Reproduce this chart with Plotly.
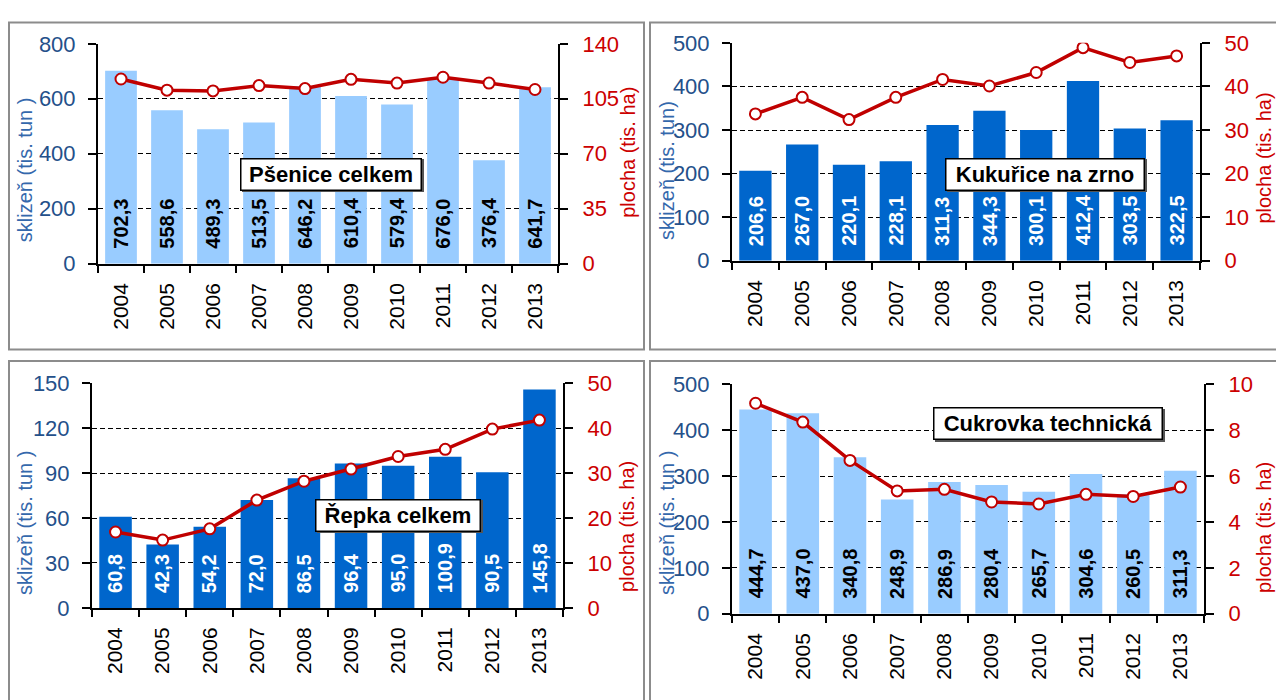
import plotly.graph_objects as go

W = 1276
H = 700

roky = [2004, 2005, 2006, 2007, 2008, 2009, 2010, 2011, 2012, 2013]

# sklizen (tis. tun)
psenice_sklizen = [702.3, 558.6, 489.3, 513.5, 646.2, 610.4, 579.4, 676.0, 376.4, 641.7]
kukurice_sklizen = [206.6, 267.0, 220.1, 228.1, 311.3, 344.3, 300.1, 412.4, 303.5, 322.5]
repka_sklizen = [60.8, 42.3, 54.2, 72.0, 86.5, 96.4, 95.0, 100.9, 90.5, 145.8]
cukrovka_sklizen = [444.7, 437.0, 340.8, 248.9, 286.9, 280.4, 265.7, 304.6, 260.5, 311.3]

# plocha (tis. ha), odhad z grafu
psenice_plocha = [117.6, 110.5, 110.0, 113.4, 111.5, 117.4, 115.0, 118.7, 115.0, 110.9]
kukurice_plocha = [33.7, 37.5, 32.4, 37.5, 41.6, 40.1, 43.2, 48.9, 45.5, 47.0]
repka_plocha = [16.9, 15.1, 17.6, 24.0, 28.2, 30.9, 33.7, 35.3, 39.8, 41.8]
cukrovka_plocha = [9.17, 8.35, 6.68, 5.35, 5.42, 4.87, 4.78, 5.20, 5.11, 5.52]

# osy
psenice_ticks_l = [0, 200, 400, 600, 800]
psenice_ticks_r = [0, 35, 70, 105, 140]
kukurice_ticks_l = [0, 100, 200, 300, 400, 500]
kukurice_ticks_r = [0, 10, 20, 30, 40, 50]
repka_ticks_l = [0, 30, 60, 90, 120, 150]
repka_ticks_r = [0, 10, 20, 30, 40, 50]
cukrovka_ticks_l = [0, 100, 200, 300, 400, 500]
cukrovka_ticks_r = [0, 2, 4, 6, 8, 10]

nazvy = ['Pšenice celkem', 'Kukuřice na zrno', 'Řepka celkem', 'Cukrovka technická']

FONT = 'Liberation Sans, Arial, sans-serif'
MODRA_OSA = '#24508A'
MODRA_TITUL = '#3468AC'
CERVENA = '#CC0000'
LINKA = '#C00000'


def px(x):
    return x / W


def py(y):
    return 1 - y / H


# pixelove rozmisteni panelu: (plot x0, x1, y0, y1), box nazvu (cx, cy, w), tituly os
panely = [
    dict(sklizen=psenice_sklizen, plocha=psenice_plocha, tl=psenice_ticks_l, tr=psenice_ticks_r,
         barva='#99CCFF', text='black', plot=(98, 558, 33, 261), box=(331, 168.5, 182),
         tit_l=(25, 164, 'sklizeň (tis. tun )'), tit_r=(628, 146)),
    dict(sklizen=kukurice_sklizen, plocha=kukurice_plocha, tl=kukurice_ticks_l, tr=kukurice_ticks_r,
         barva='#0066CC', text='white', plot=(732, 1200, 32, 258), box=(1045, 168.5, 200),
         tit_l=(667, 165, 'sklizeň (tis. tun)'), tit_r=(1264, 152)),
    dict(sklizen=repka_sklizen, plocha=repka_plocha, tl=repka_ticks_l, tr=repka_ticks_r,
         barva='#0066CC', text='white', plot=(92, 563, 385, 618), box=(398, 522, 166),
         tit_l=(25, 530, 'sklizeň (tis. tun )'), tit_r=(627, 534)),
    dict(sklizen=cukrovka_sklizen, plocha=cukrovka_plocha, tl=cukrovka_ticks_l, tr=cukrovka_ticks_r,
         barva='#99CCFF', text='black', plot=(732, 1204, 386, 624), box=(1048, 427, 230),
         tit_l=(667, 530, 'sklizeň (tis. tun )'), tit_r=(1264, 535)),
]


def fmt(v):
    return f'{v:.1f}'.replace('.', ',')


fig = go.Figure()
layout = {}
annotations = []
shapes = []

for i, p in enumerate(panely):
    n = i + 1
    xa = 'x' if n == 1 else f'x{n}'
    ya = 'y' if n == 1 else f'y{2 * n - 1}'
    yb = f'y{2 * n}'
    x0, x1, y0, y1 = p['plot']

    fig.add_trace(go.Bar(
        x=roky, y=p['sklizen'], xaxis=xa, yaxis=ya,
        marker=dict(color=p['barva'], line=dict(width=0)),
        showlegend=False, hoverinfo='skip'
    ))
    fig.add_trace(go.Scatter(
        x=roky, y=p['plocha'], xaxis=xa, yaxis=yb,
        mode='lines+markers',
        line=dict(color=LINKA, width=3.5),
        marker=dict(size=11, color='white', line=dict(color=LINKA, width=2)),
        showlegend=False, hoverinfo='skip'
    ))

    layout['xaxis' if n == 1 else f'xaxis{n}'] = dict(
        domain=[px(x0), px(x1)], anchor=ya, type='linear',
        range=[roky[0] - 0.5, roky[-1] + 0.5],
        tickmode='array', tickvals=roky, ticktext=[str(r) for r in roky],
        showline=True, linecolor='black', linewidth=2,
        ticks='', tickangle=-90, ticklabelstandoff=9,
        tickfont=dict(family=FONT, size=21, color='black'),
        minor=dict(tickmode='linear', tick0=roky[0] - 0.5, dtick=1, ticks='outside',
                   ticklen=7, tickwidth=2, tickcolor='black', showgrid=False),
        showgrid=False, zeroline=False, fixedrange=True
    )
    layout['yaxis' if n == 1 else f'yaxis{2 * n - 1}'] = dict(
        domain=[py(y1), py(y0)], anchor=xa,
        range=[0, p['tl'][-1]], tickvals=p['tl'],
        showline=True, linecolor='black', linewidth=2,
        ticks='outside', ticklen=8, tickwidth=2, tickcolor='black', ticklabelstandoff=8,
        tickfont=dict(family=FONT, size=22, color=MODRA_OSA),
        showgrid=True, gridcolor='black', gridwidth=1.2, griddash='5px,3px',
        zeroline=False, fixedrange=True
    )
    layout[f'yaxis{2 * n}'] = dict(
        overlaying=ya, side='right', anchor=xa,
        range=[0, p['tr'][-1]], tickvals=p['tr'],
        showline=True, linecolor='black', linewidth=2,
        ticks='outside', ticklen=8, tickwidth=2, tickcolor='black', ticklabelstandoff=10,
        tickfont=dict(family=FONT, size=22, color=CERVENA),
        showgrid=False, zeroline=False, fixedrange=True
    )

    # hodnoty v sloupcich
    for rok, v in zip(roky, p['sklizen']):
        annotations.append(dict(
            x=rok, y=0, xref=xa, yref=ya, text=fmt(v), textangle=-90,
            yanchor='bottom', xanchor='center', yshift=13, showarrow=False,
            font=dict(family=FONT, size=20, color=p['text'], weight='bold')
        ))

    # nazev plodiny v ramecku (s lehkym stinem)
    cx, cy, bw = p['box']
    annotations.append(dict(
        x=px(cx + 1.5), y=py(cy + 1.5), xref='paper', yref='paper', text='',
        xanchor='center', yanchor='middle',
        width=bw - 7, height=26, bgcolor='#555555', borderpad=2, borderwidth=1.5,
        bordercolor='#555555', showarrow=False
    ))
    annotations.append(dict(
        x=px(cx), y=py(cy), xref='paper', yref='paper', text=nazvy[i],
        xanchor='center', yanchor='middle',
        width=bw - 7, height=26, bgcolor='white', bordercolor='black',
        borderwidth=1.5, borderpad=2, showarrow=False,
        font=dict(family=FONT, size=22, color='black', weight='bold')
    ))

    # tituly os
    tx, ty, tt = p['tit_l']
    annotations.append(dict(
        x=px(tx), y=py(ty), xref='paper', yref='paper', text=tt, textangle=-90,
        xanchor='center', yanchor='middle',
        showarrow=False, font=dict(family=FONT, size=20, color=MODRA_TITUL)
    ))
    rx, ry = p['tit_r']
    annotations.append(dict(
        x=px(rx), y=py(ry), xref='paper', yref='paper', text='plocha (tis. ha)',
        xanchor='center', yanchor='middle',
        textangle=-90, showarrow=False, font=dict(family=FONT, size=20, color=CERVENA)
    ))

# ramecky panelu
for (bx0, by0, bx1, by1) in [(9, 11, 644, 350), (650, 11, 1300, 350), (9, 362, 644, 720), (650, 362, 1300, 720)]:
    shapes.append(dict(
        type='rect', xref='paper', yref='paper',
        x0=px(bx0), x1=px(bx1), y0=py(by1), y1=py(by0),
        line=dict(color='#8C8C8C', width=2), layer='below'
    ))

fig.update_layout(
    width=W, height=H, autosize=False,
    margin=dict(l=0, r=0, t=0, b=0, pad=0),
    paper_bgcolor='white', plot_bgcolor='white',
    bargap=0.31, showlegend=False,
    annotations=annotations, shapes=shapes,
    font=dict(family=FONT),
    **layout
)

# bez okraje stranky, aby graf sedel presne do okna
fig.write_html('out.html', config={'displayModeBar': False},
               post_script="document.body.style.margin = '0px'; document.body.style.overflow = 'hidden';")
